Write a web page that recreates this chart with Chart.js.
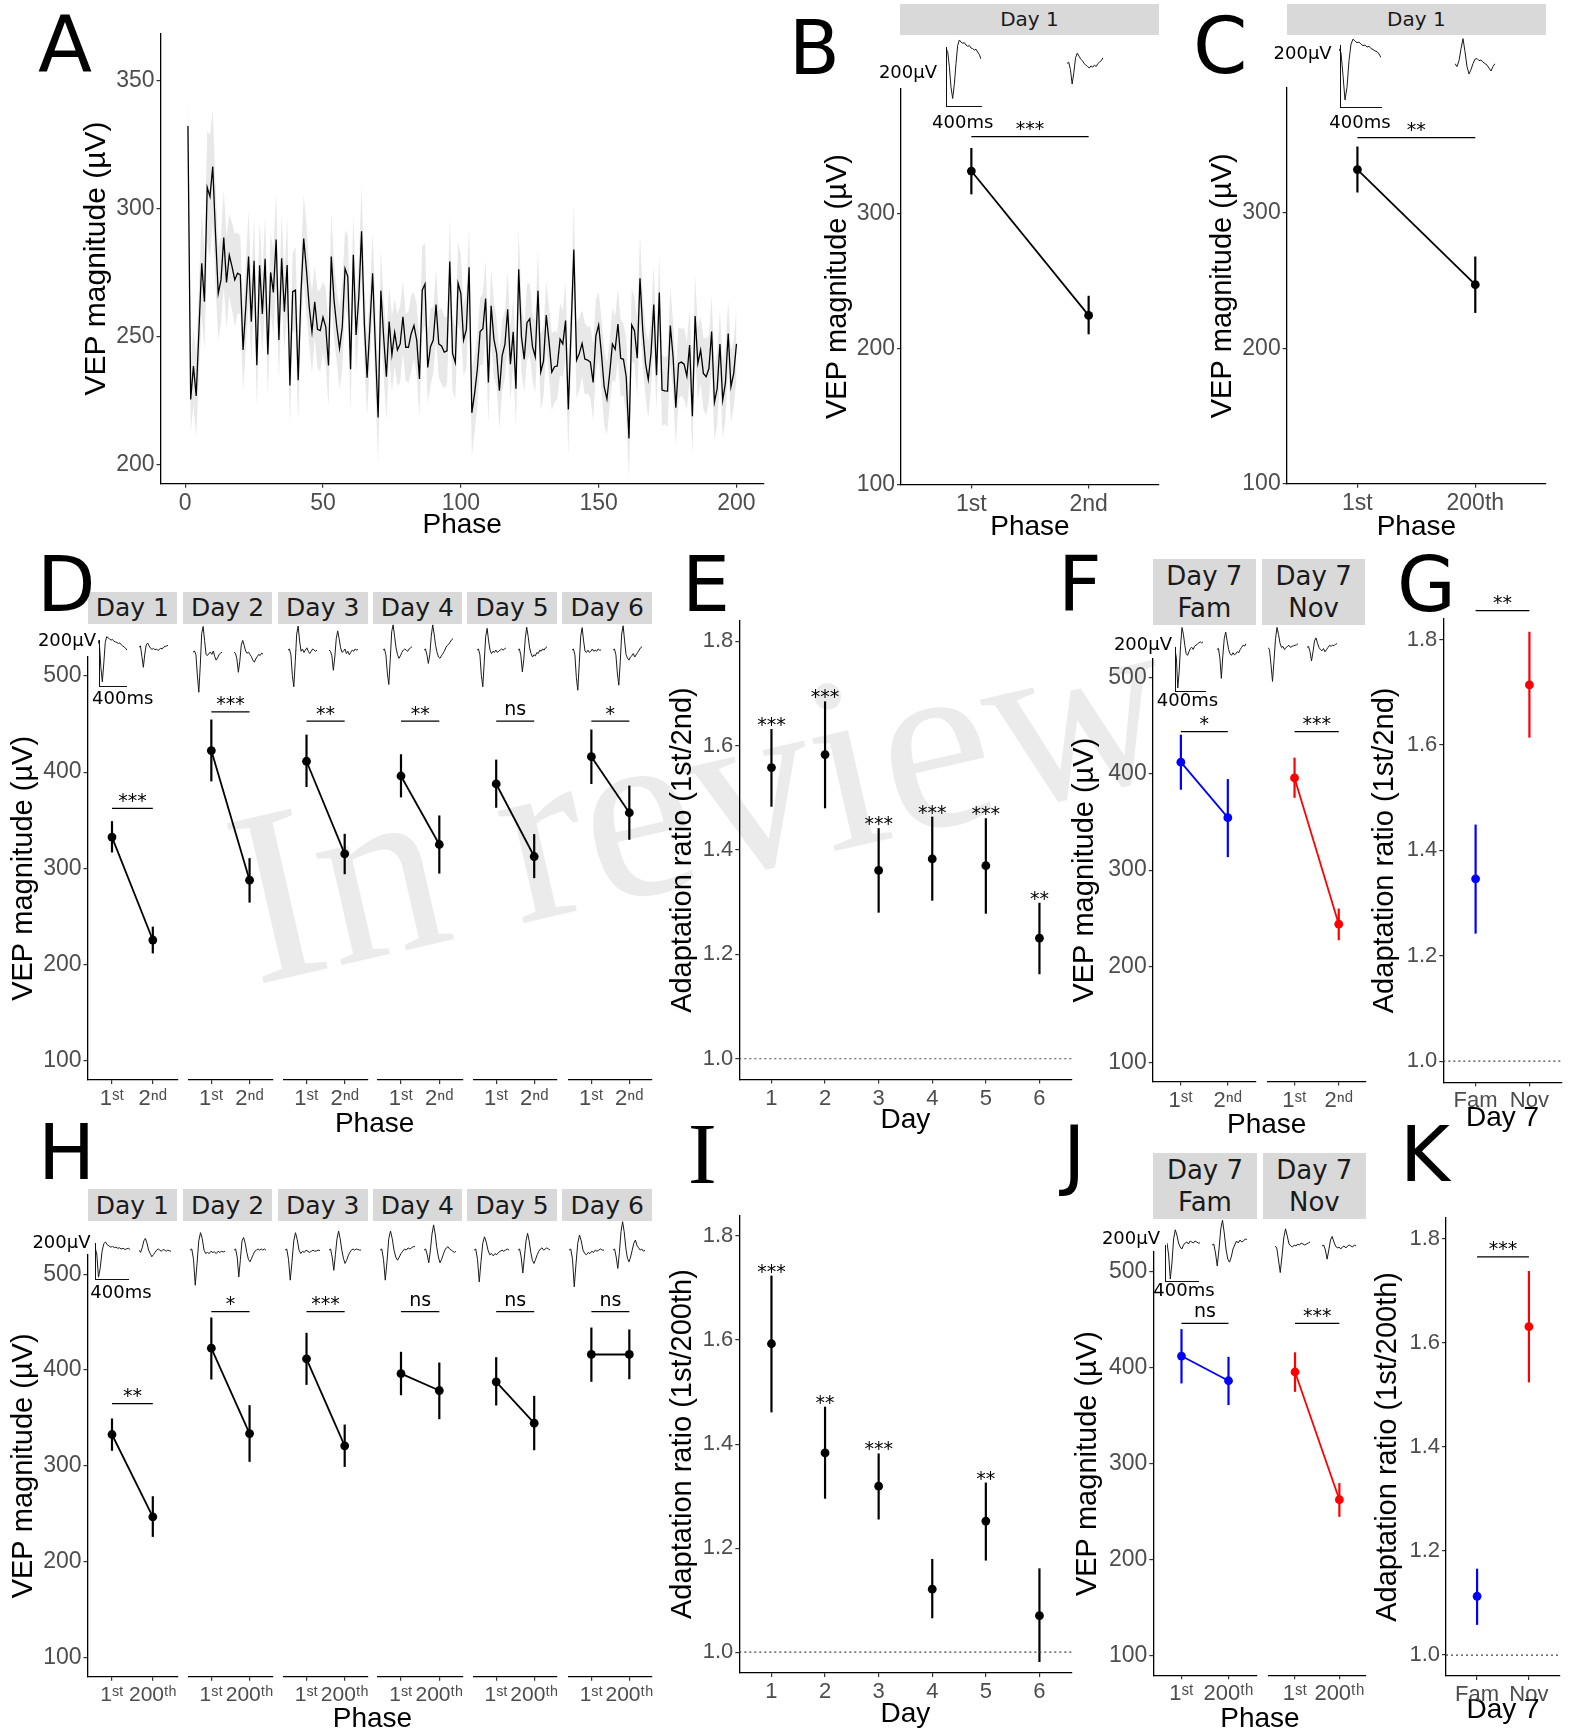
<!DOCTYPE html>
<html>
<head>
<meta charset="utf-8">
<script src="https://cdn.jsdelivr.net/npm/chart.js@4.4.1/dist/chart.umd.min.js"></script>
<style>
  body { margin: 0; background: #fff; }
  #fig { position: relative; width: 1571px; height: 1736px; overflow: hidden; background: #fff; }
  #fig canvas { position: absolute; z-index: 1; }
  .lbl { position: absolute; white-space: nowrap; line-height: 1; z-index: 2; }
  .strip { position: absolute; background: #d9d9d9; display: flex; align-items: center; justify-content: center;
           text-align: center; color: #1a1a1a; font-family: 'DejaVu Sans', sans-serif; z-index: 1; }
  .sbar { position: absolute; border-left: 1.5px solid #111; border-bottom: 1.5px solid #111; z-index: 2; }
  .wm { position: absolute; z-index: 0; white-space: nowrap; line-height: 1; color: #ebebeb;
        font-family: 'Liberation Serif', serif; }
</style>
</head>
<body>
<div id="fig"></div>
<script>
// ── Panel A: VEP magnitude over 200 phases (mean and SE ribbon) ─────────────
const phaseMean = [
  332.4, 225.6, 238.7, 227.0, 252.7, 278.8, 263.8, 308.4, 304.8, 316.5,
  290.5, 267.0, 272.3, 288.8, 271.3, 282.0, 277.5, 272.3, 274.9, 274.3,
  244.9, 261.8, 281.4, 256.0, 279.8, 239.0, 278.0, 259.0, 280.5, 243.2,
  275.2, 267.4, 288.1, 248.8, 280.7, 259.9, 278.1, 231.1, 267.7, 268.3,
  233.1, 267.0, 288.4, 276.2, 261.8, 252.0, 263.7, 253.0, 252.5, 257.7,
  254.0, 238.9, 281.4, 264.4, 254.0, 245.6, 254.0, 276.7, 273.6, 237.4,
  282.1, 250.8, 265.7, 291.3, 255.3, 234.1, 254.0, 274.9, 246.2, 218.6,
  268.1, 250.1, 234.5, 256.0, 243.1, 251.8, 244.9, 247.3, 257.9, 246.0,
  246.0, 251.4, 254.5, 248.8, 233.6, 268.3, 270.7, 238.1, 246.2, 248.8,
  262.7, 247.3, 246.5, 244.1, 244.6, 279.5, 243.6, 240.0, 271.0, 267.0,
  248.8, 253.0, 277.2, 220.4, 228.0, 237.5, 252.1, 253.2, 265.0, 232.3,
  262.2, 249.2, 243.6, 229.0, 242.7, 247.1, 260.8, 239.4, 252.0, 229.8,
  276.4, 250.1, 241.3, 255.6, 257.1, 246.2, 242.3, 268.1, 236.4, 240.6,
  258.6, 248.2, 236.3, 238.4, 238.7, 249.2, 247.3, 256.4, 221.7, 252.7,
  284.2, 241.0, 243.6, 247.5, 241.4, 241.0, 240.2, 232.3, 250.5, 254.7,
  243.6, 230.6, 225.8, 235.8, 247.3, 245.2, 255.1, 241.7, 241.3, 234.5,
  210.4, 254.7, 252.5, 241.7, 272.9, 252.7, 239.7, 233.4, 243.6, 262.7,
  235.1, 267.4, 229.3, 229.0, 228.9, 254.5, 242.3, 222.4, 239.7, 240.2,
  239.4, 234.7, 246.9, 219.1, 258.2, 239.7, 244.9, 235.8, 234.5, 237.7,
  252.1, 224.5, 229.9, 247.3, 225.4, 232.1, 251.4, 230.6, 235.8, 247.3,
];
const phaseSE = [
  17, 13, 15, 16, 18, 20, 19, 22, 24, 22,
  20, 18, 17, 19, 18, 16, 17, 18, 16, 15,
  16, 17, 18, 15, 17, 16, 18, 15, 17, 16,
  15, 17, 18, 16, 17, 15, 18, 16, 15, 17,
  16, 15, 17, 18, 15, 16, 14, 15, 16, 14,
  15, 16, 17, 15, 14, 16, 17, 15, 16, 17,
  16, 15, 14, 18, 16, 15, 14, 16, 17, 18,
  16, 15, 17, 14, 15, 13, 14, 15, 14, 13,
  14, 15, 13, 14, 15, 17, 16, 14, 15, 13,
  14, 13, 15, 14, 13, 17, 15, 14, 16, 15,
  14, 15, 16, 17, 15, 14, 13, 14, 15, 16,
  14, 15, 13, 15, 14, 13, 15, 14, 13, 15,
  16, 14, 13, 15, 14, 13, 14, 16, 15, 14,
  13, 14, 15, 14, 13, 14, 13, 15, 18, 14,
  18, 15, 14, 13, 14, 13, 14, 15, 14, 13,
  14, 15, 14, 13, 14, 13, 14, 15, 14, 15,
  16, 14, 13, 15, 17, 14, 13, 15, 14, 15,
  14, 15, 14, 13, 14, 15, 14, 15, 14, 13,
  14, 13, 14, 15, 16, 14, 13, 14, 15, 13,
  14, 15, 14, 13, 15, 14, 13, 14, 13, 14,
];
const aXTicks = [0, 50, 100, 150, 200];
const aYTicks = [200, 250, 300, 350];

// ── Panels B, C: Day 1, first vs second / 200th phase ───────────────────────
const bLabels = ['1st', '2nd'];
const bMean = [331.2, 224.7];
const bLo = [314.0, 210.8];
const bHi = [348.2, 239.2];
const cLabels = ['1st', '200th'];
const cMean = [331.7, 246.8];
const cLo = [314.8, 226.0];
const cHi = [348.7, 267.6];
const vepTicksBC = [100, 200, 300];
const vepTicks = [100, 200, 300, 400, 500];

// ── Panels D, H: Day 1–6 ────────────────────────────────────────────────────
const days = ['Day 1', 'Day 2', 'Day 3', 'Day 4', 'Day 5', 'Day 6'];
const dPhase = ['1ˢᵗ', '2ⁿᵈ'];
const d1stMean = [332.5, 422.4, 411.3, 396.0, 387.7, 416.1];
const d1stLo = [316.5, 390.4, 384.5, 373.8, 363.0, 387.7];
const d1stHi = [349.1, 454.7, 439.0, 418.6, 413.0, 444.3];
const d2ndMean = [225.5, 287.7, 315.1, 324.8, 312.3, 357.8];
const d2ndLo = [211.6, 264.4, 293.9, 294.6, 289.8, 329.7];
const d2ndHi = [239.4, 310.6, 335.9, 355.0, 335.6, 386.0];
const dSig = ['***', '***', '**', '**', 'ns', '*'];
const dSigY = [362.3, 462.7, 453, 453, 453, 453];

const hPhase = ['1ˢᵗ', '200ᵗʰ'];
const h1stMean = [332.7, 422.8, 411.7, 396.3, 387.7, 416.2];
const h1stLo = [315.7, 390.1, 384.5, 373.7, 363.0, 387.7];
const h1stHi = [349.4, 454.8, 438.8, 419.0, 413.4, 444.3];
const h200Mean = [246.8, 333.7, 320.9, 378.6, 344.5, 416.2];
const h200Lo = [225.9, 304.2, 298.9, 348.7, 316.3, 390.4];
const h200Hi = [268.3, 363.3, 343.1, 407.8, 373.0, 442.3];
const hSig = ['**', '*', '***', 'ns', 'ns', 'ns'];
const hSigY = [365, 461, 461, 461, 461, 461];

// ── Panels E, I: adaptation ratio per day ───────────────────────────────────
const dayNums = [1, 2, 3, 4, 5, 6];
const ratioTicks = [1.0, 1.2, 1.4, 1.6, 1.8];
const eMean = [1.558, 1.583, 1.361, 1.383, 1.370, 1.231];
const eLo = [1.483, 1.480, 1.280, 1.303, 1.278, 1.162];
const eHi = [1.632, 1.685, 1.442, 1.464, 1.461, 1.299];
const eSig = ['***', '***', '***', '***', '***', '**'];
const iMean = [1.593, 1.383, 1.319, 1.121, 1.252, 1.070];
const iLo = [1.461, 1.295, 1.255, 1.065, 1.176, 0.981];
const iHi = [1.724, 1.472, 1.382, 1.179, 1.326, 1.161];
const iSig = ['***', '**', '***', '', '**', ''];

// ── Panels F, J: Day 7 familiar vs novel ────────────────────────────────────
const fFamMean = [412.4, 354.6];
const fFamLo = [383.7, 313.5];
const fFamHi = [441.0, 394.8];
const fNovMean = [396.0, 243.8];
const fNovLo = [375.3, 227.0];
const fNovHi = [417.1, 260.0];
const fSig = ['*', '***'];
const jFamMean = [411.9, 386.2];
const jFamLo = [383.4, 360.9];
const jFamHi = [439.9, 411.1];
const jNovMean = [395.3, 262.5];
const jNovLo = [374.7, 244.7];
const jNovHi = [415.8, 279.8];
const jSig = ['ns', '***'];

// ── Panels G, K: Day 7 adaptation ratio ─────────────────────────────────────
const groups = ['Fam', 'Nov'];
const gMean = [1.346, 1.714];
const gLo = [1.242, 1.614];
const gHi = [1.449, 1.815];
const kMean = [1.113, 1.631];
const kLo = [1.058, 1.524];
const kHi = [1.166, 1.738];

// ── Averaged VEP waveforms (µV, 400 ms each) ────────────────────────────────
const trB1 = [0, -10, -60, -130, -168, -120, -50, 10, 29, 22, 18, 20, 12, 8, 10, 2, 0, -5, -2, -12, -20, -35];
const trB2 = [0, 5, -20, -69, -30, 20, 35, 25, 15, 10, 0, -5, -10, -15, -8, -12, -5, -10, 0, 5, 10, 20];
const trC1 = [0, -15, -90, -173, -130, -40, 15, 32, 25, 20, 22, 15, 10, 12, 5, 8, 0, -3, -8, -10, -18, -30];
const trC2 = [0, -10, 10, 50, 84, 40, -10, -35, -20, 0, 15, 17, 10, 12, 5, 0, -5, -15, -25, -10, 0];
const trD1a = [0, -20, -120, -182, -100, -10, 15, 10, 5, 0, 3, -5, -8, -10, -15, -12, -20, -25, -30, -35, -44];
const trD1b = [0, 5, -40, -88, -30, 10, 18, 5, -5, -10, -5, -12, -8, -15, -10, -5, -8, 0, 3, 5, 8];
const trD2a = [0, 5, -10, -100, -175, -60, 80, 112, 50, -10, -15, -5, 0, -10, 5, -20, -35, -25, -10, -5, 0];
const trD2b = [0, -5, -30, -88, -40, 30, 51, 30, 5, -5, 0, -10, -20, -35, -44, -30, -20, -10, -15, -5, -8];
const trD3a = [0, 5, -20, -110, -160, -50, 70, 105, 40, -5, 5, -10, 0, 10, -5, -15, -5, 5, 0, -5, 0];
const trD3b = [0, -5, -25, -88, -30, 50, 84, 50, 10, -10, -5, 5, -15, -5, -20, -10, 0, -5, 5, 0, 3];
const trD4a = [0, 5, -20, -100, -150, -40, 80, 110, 60, 10, -20, -36, -25, -10, 0, 5, 0, -5, 5, 10, 15];
const trD4b = [0, 5, -20, -58, -20, 60, 110, 70, 20, -10, -30, -36, -25, -15, -5, 10, 20, 25, 35, 45, 50];
const trD5a = [0, 5, -20, -110, -160, -50, 60, 95, 40, 0, -15, -5, -10, 0, -10, -5, 0, 5, 0, 5, 10];
const trD5b = [0, 5, -25, -95, -40, 50, 100, 60, 10, -15, -30, -20, -25, -10, -15, 0, -5, 5, 0, 10, 15];
const trD6a = [0, 5, -20, -120, -175, -60, 60, 98, 40, -5, -10, 0, -10, -5, 5, -5, 0, -5, 5, 0, 0];
const trD6b = [0, 5, -20, -100, -153, -50, 70, 106, 40, -20, -35, -44, -30, -25, -15, -30, -20, -10, 0, 10, 15];
const trH1a = [0, -30, -131, -90, -20, 15, 22, 10, 5, 0, 3, -2, 0, -5, -3, -8, -5, -10, -8, -5, -10];
const trH1b = [0, -10, 10, 40, 51, 30, 0, -15, -29, -20, -10, 0, 5, 0, -5, 3, 0, -5, 0, -3, -5];
const trH2a = [0, 5, -40, -153, -60, 40, 76, 50, 0, -15, -10, -15, -5, -10, -8, -15, -5, -10, -5, -8, -5];
const trH2b = [0, 5, -30, -117, -40, 40, 55, 30, -10, -40, -51, -35, -20, -5, 0, 5, 0, 5, 0, 5, 0];
const trH3a = [0, 5, -40, -131, -50, 40, 76, 45, 0, -15, -5, -10, 0, -5, -10, -5, 0, -5, -3, 0, -2];
const trH3b = [0, 5, -30, -88, -20, 50, 83, 50, 0, -35, -58, -45, -25, -10, 0, 5, 0, 5, 3, 0, 0];
const trH4a = [0, 5, -40, -131, -50, 50, 83, 50, 0, -30, -44, -30, -15, -5, 5, 0, 10, 5, 10, 15, 15];
const trH4b = [0, 5, -20, -55, 0, 70, 110, 70, 10, -30, -55, -40, -20, 0, 10, 15, 5, 0, -5, -10, -5];
const trH5a = [0, 5, -40, -139, -50, 30, 58, 35, 0, -20, -15, -25, -15, -20, -10, -5, 0, -5, 0, 5, 0];
const trH5b = [0, 5, -30, -100, -30, 40, 73, 40, -10, -45, -58, -40, -20, -5, 5, 10, 0, 5, 10, 5, 0];
const trH6a = [0, 5, -40, -160, -60, 30, 66, 40, 0, -15, -20, -10, -15, -5, -10, 0, -5, 0, 5, 0, 0];
const trH6b = [0, 5, -30, -80, -10, 80, 124, 80, 10, -35, -51, -30, 0, 30, 44, 20, 10, 0, 5, -5, 0];
const trF1a = [0, -40, -177, -100, 20, 101, 70, 20, -20, -27, -10, 5, 10, 0, 15, 20, 25, 30, 35, 30, 35];
const trF1b = [0, 5, -40, -133, -30, 50, 80, 40, 0, -20, -27, -15, -25, -20, -10, -15, 0, 10, 20, 15, 27];
const trF2a = [0, -10, -80, -156, -60, 40, 92, 60, 20, 0, 5, -10, 0, 5, 10, 0, 5, 8, 10, 12, 18];
const trF2b = [0, 5, -20, -62, -20, 30, 44, 20, 0, -10, -15, -5, -20, -10, 0, 10, 5, 10, 8, 15, 18];
const trJ1a = [0, -60, -180, -100, 20, 66, 40, 0, -20, -30, -10, 0, 5, -5, 10, 5, 0, 10, 5, 0, 0];
const trJ1b = [0, 5, -40, -105, -20, 80, 124, 60, -20, -70, -86, -60, -20, 0, 20, 10, 25, 15, 20, 30, 28];
const trJ2a = [0, -10, -70, -133, -50, 40, 86, 50, 10, 0, -5, 5, 0, 10, 5, 15, 10, 5, 10, 15, 20];
const trJ2b = [0, 5, -20, -66, -20, 30, 48, 20, 0, -10, -5, -15, -5, 0, -10, 0, 5, 0, -5, 5, 0];

// ── helpers ─────────────────────────────────────────────────────────────────
const fig = document.getElementById('fig');
const SANS = "'Liberation Sans', Arial, 'DejaVu Sans', sans-serif";
const DJ = "'DejaVu Sans', sans-serif";
const TICK = '#4d4d4d';
const BLUE = '#0000ff';
const RED = '#ff0000';

function canvasAt(x, y, w, h) {
  const c = document.createElement('canvas');
  c.width = w; c.height = h;
  c.style.left = x + 'px'; c.style.top = y + 'px';
  c.style.width = w + 'px'; c.style.height = h + 'px';
  fig.appendChild(c);
  return c;
}

function text(str, x, y, size, family, align) {
  const d = document.createElement('div');
  d.className = 'lbl';
  d.textContent = str;
  d.style.fontSize = size + 'px';
  d.style.fontFamily = family || DJ;
  d.style.left = x + 'px';
  d.style.top = y + 'px';
  const tx = align === 'right' ? '-100%' : align === 'left' ? '0' : '-50%';
  d.style.transform = `translate(${tx}, -50%)`;
  fig.appendChild(d);
}

function letter(ch, x, capTop, size, serif) {
  const d = document.createElement('div');
  d.className = 'lbl';
  d.textContent = ch;
  d.style.fontSize = size + 'px';
  d.style.fontFamily = serif ? "'Liberation Serif', serif" : DJ;
  d.style.left = x + 'px';
  d.style.top = (capTop - (serif ? 0.176 : 0.117) * size) + 'px';
  fig.appendChild(d);
}

function strip(x, y, w, h, html, size) {
  const d = document.createElement('div');
  d.className = 'strip';
  d.innerHTML = html;
  d.style.cssText += `left:${x}px;top:${y}px;width:${w}px;height:${h}px;font-size:${size}px;line-height:1.25;`;
  fig.appendChild(d);
}

function scaleBar(x, top, bottom, right) {
  const d = document.createElement('div');
  d.className = 'sbar';
  d.style.cssText += `left:${x}px;top:${top}px;width:${right - x}px;height:${bottom - top}px;`;
  fig.appendChild(d);
}

// one averaged waveform, k = pixels per µV
function trace(vals, x, w, baseY, k) {
  const top = Math.round(baseY - 140 * k);
  const c = canvasAt(Math.round(x), top, Math.round(w), Math.round(340 * k));
  new Chart(c, {
    type: 'line',
    data: { labels: vals.map((_, i) => i), datasets: [{ data: vals, borderColor: '#1a1a1a', borderWidth: 1, pointRadius: 0, tension: 0 }] },
    options: {
      responsive: false, animation: false, events: [],
      layout: { padding: 0 },
      plugins: { legend: { display: false }, tooltip: { enabled: false } },
      scales: { x: { display: false }, y: { display: false, min: -200, max: 140 } },
    },
  });
}

// error bars drawn from dataset lo/hi through the chart scales
const errorBars = {
  id: 'errorBars',
  beforeDatasetsDraw(chart) {
    const { ctx } = chart;
    const xs = chart.scales.x, ys = chart.scales.y;
    chart.data.datasets.forEach((ds) => {
      if (!ds.lo) return;
      ctx.save();
      ctx.strokeStyle = ds.borderColor;
      ctx.lineWidth = 2.2;
      ds.data.forEach((p, i) => {
        const px = xs.getPixelForValue(p.x);
        ctx.beginPath();
        ctx.moveTo(px, ys.getPixelForValue(ds.lo[i]));
        ctx.lineTo(px, ys.getPixelForValue(ds.hi[i]));
        ctx.stroke();
      });
      ctx.restore();
    });
  },
};

// reference line, significance bars and star labels
function annot(o) {
  return {
    id: 'annot',
    beforeDatasetsDraw(chart) {
      if (o.ref == null) return;
      const { ctx, chartArea } = chart;
      const py = chart.scales.y.getPixelForValue(o.ref);
      ctx.save();
      ctx.strokeStyle = '#444';
      ctx.lineWidth = 1.2;
      ctx.setLineDash([2, 3]);
      ctx.beginPath();
      ctx.moveTo(chartArea.left, py);
      ctx.lineTo(chartArea.right, py);
      ctx.stroke();
      ctx.restore();
    },
    afterDatasetsDraw(chart) {
      const { ctx } = chart;
      const xs = chart.scales.x, ys = chart.scales.y;
      ctx.save();
      ctx.font = `19px ${DJ}`;
      ctx.fillStyle = '#000';
      ctx.strokeStyle = '#000';
      ctx.lineWidth = 1.3;
      ctx.textAlign = 'center';
      ctx.textBaseline = 'alphabetic';
      (o.bars || []).forEach((b) => {
        const py = ys.getPixelForValue(b.y);
        const x1 = xs.getPixelForValue(b.x1), x2 = xs.getPixelForValue(b.x2);
        ctx.beginPath();
        ctx.moveTo(x1, py);
        ctx.lineTo(x2, py);
        ctx.stroke();
        ctx.fillText(b.text, (x1 + x2) / 2, py - (b.text === 'ns' ? 6 : 1.5));
      });
      (o.stars || []).forEach((s) => {
        if (!s.text) return;
        ctx.fillText(s.text, xs.getPixelForValue(s.x), ys.getPixelForValue(s.y) + 2);
      });
      ctx.restore();
    },
  };
}

// one plot panel; rect = [left, top, right, bottom] of the plotting area
function plot(o) {
  const [l, t, r, b] = o.rect;
  const showY = o.yAxis !== false;
  const yTitleSize = o.yTitleSize || 29;
  const left = o.yTitle ? o.yTitleX - (4 + yTitleSize * 0.6) : l - (showY ? 60 : 6);
  const bottom = o.xTitle ? o.xTitleY + 4 + 28 * 0.6 : b + 36;
  const cx = Math.round(left), cy = Math.round(t - (o.T || 36));
  const cw = Math.round(r + 12) - cx, ch = Math.round(bottom) - cy;
  const c = canvasAt(cx, cy, cw, ch);
  new Chart(c, {
    type: 'line',
    data: { datasets: o.datasets },
    options: {
      responsive: false, animation: false, events: [],
      layout: { padding: { left: showY ? 0 : l - cx, top: t - cy, right: cx + cw - r, bottom: 0 } },
      plugins: { legend: { display: false }, tooltip: { enabled: false } },
      scales: {
        x: {
          type: 'linear', min: o.xMin, max: o.xMax,
          afterBuildTicks: (s) => { s.ticks = o.xTicks.map((v) => ({ value: v })); },
          afterFit: (s) => { s.height = cy + ch - b; },
          ticks: { autoSkip: false, maxRotation: 0, padding: 2, color: TICK,
                   font: { family: SANS, size: o.xTickSize || 23 }, callback: o.xFmt || ((v) => v) },
          grid: { drawOnChartArea: false, tickLength: 4, color: '#333', lineWidth: 1.2 },
          border: { color: '#000', width: 1.3 },
          title: o.xTitle
            ? { display: true, text: o.xTitle, color: '#000', font: { family: SANS, size: 28, lineHeight: 1.2 }, padding: { top: 0, bottom: 4 } }
            : { display: false },
        },
        y: {
          type: 'linear', display: showY, min: o.yMin, max: o.yMax,
          afterBuildTicks: (s) => { s.ticks = o.yTicks.map((v) => ({ value: v })); },
          afterFit: (s) => { s.width = l - cx; },
          ticks: { autoSkip: false, padding: 2, color: TICK,
                   font: { family: SANS, size: o.yTickSize || 23 }, callback: o.yFmt || ((v) => v) },
          grid: { drawOnChartArea: false, tickLength: 4, color: '#333', lineWidth: 1.2 },
          border: { color: '#000', width: 1.3 },
          title: o.yTitle
            ? { display: true, text: o.yTitle, color: '#000', font: { family: SANS, size: yTitleSize, lineHeight: 1.2 }, padding: { top: 4, bottom: 0 } }
            : { display: false },
        },
      },
    },
    plugins: [errorBars, annot(o)],
  });
}

function pointSet(means, lo, hi, color, xs, joined) {
  return {
    data: means.map((m, i) => ({ x: xs[i], y: m })),
    lo, hi,
    borderColor: color, backgroundColor: color, pointBackgroundColor: color,
    pointBorderWidth: 0, pointRadius: 4.4, borderWidth: 1.8, showLine: joined, tension: 0,
  };
}

// ── panel A ─────────────────────────────────────────────────────────────────
// datasets are painted last-to-first, so the mean line comes first to stay on top of the ribbon
plot({
  rect: [160.5, 33.2, 763.9, 483.8],
  xMin: -8.95, xMax: 209.95, xTicks: aXTicks,
  yMin: 192.7, yMax: 368.6, yTicks: aYTicks,
  yTitle: 'VEP magnitude (µV)', yTitleX: 97, yTitleSize: 30,
  xTitle: 'Phase', xTitleY: 525,
  datasets: [
    { data: phaseMean.map((v, i) => ({ x: i + 1, y: v })), borderColor: '#000', borderWidth: 1.3, pointRadius: 0, tension: 0 },
    { data: phaseMean.map((v, i) => ({ x: i + 1, y: v - phaseSE[i] })), borderColor: 'rgba(0,0,0,0)', borderWidth: 0, pointRadius: 0, fill: false },
    { data: phaseMean.map((v, i) => ({ x: i + 1, y: v + phaseSE[i] })), borderColor: 'rgba(0,0,0,0)', borderWidth: 0, pointRadius: 0, fill: '-1', backgroundColor: '#e8e8e8' },
  ],
});

// ── panels B and C ──────────────────────────────────────────────────────────
strip(900, 4.4, 259, 31, 'Day 1', 20);
plot({
  rect: [901, 88.6, 1159, 484.5],
  xMin: 0.4, xMax: 2.6, xTicks: [1, 2], xFmt: (v) => bLabels[v - 1],
  yMin: 100, yMax: 392, yTicks: vepTicksBC,
  yTitle: 'VEP magnitude (µV)', yTitleX: 838,
  xTitle: 'Phase', xTitleY: 527,
  datasets: [pointSet(bMean, bLo, bHi, '#000', [1, 2], true)],
  bars: [{ x1: 1, x2: 2, y: 356.6, text: '***' }],
});
trace(trB1, 945.7, 35.3, 48.2, 0.297);
trace(trB2, 1067.3, 36, 63.7, 0.297);
scaleBar(945.7, 46.5, 106, 981);
text('200µV', 937, 72.3, 18, DJ, 'right');
text('400ms', 962.7, 122.2, 18, DJ);

strip(1286.7, 4.4, 259.3, 31, 'Day 1', 20);
plot({
  rect: [1286.7, 87.8, 1546, 483.8],
  xMin: 0.4, xMax: 2.6, xTicks: [1, 2], xFmt: (v) => cLabels[v - 1],
  yMin: 100, yMax: 392, yTicks: vepTicksBC,
  yTitle: 'VEP magnitude (µV)', yTitleX: 1223,
  xTitle: 'Phase', xTitleY: 527,
  datasets: [pointSet(cMean, cLo, cHi, '#000', [1, 2], true)],
  bars: [{ x1: 1, x2: 2, y: 355.3, text: '**' }],
});
trace(trC1, 1339.3, 41.7, 48.2, 0.297);
trace(trC2, 1455, 40, 63.7, 0.297);
scaleBar(1340, 44.8, 106.7, 1381);
text('200µV', 1331.7, 53.4, 18, DJ, 'right');
text('400ms', 1360, 122.2, 18, DJ);

// ── panels D and H (six day facets each) ────────────────────────────────────
const facetLeft = [87.5, 182.7, 277.8, 372.5, 467.2, 562.3];
const facetW = 89.8;
const dTraces = [[trD1a, trD1b], [trD2a, trD2b], [trD3a, trD3b], [trD4a, trD4b], [trD5a, trD5b], [trD6a, trD6b]];
const hTraces = [[trH1a, trH1b], [trH2a, trH2b], [trH3a, trH3b], [trH4a, trH4b], [trH5a, trH5b], [trH6a, trH6b]];

days.forEach((day, i) => {
  const l = facetLeft[i];
  strip(l, 591.7, facetW, 32.3, day, 25);
  plot({
    rect: [l, 656.7, l + facetW, 1080],
    xMin: 0.4, xMax: 2.6, xTicks: [1, 2], xFmt: (v) => dPhase[v - 1], xTickSize: 22,
    yMin: 80, yMax: 520, yTicks: vepTicks, yAxis: i === 0,
    yTitle: i === 0 ? 'VEP magnitude (µV)' : null, yTitleX: 24,
    datasets: [pointSet([d1stMean[i], d2ndMean[i]], [d1stLo[i], d2ndLo[i]], [d1stHi[i], d2ndHi[i]], '#000', [1, 2], true)],
    bars: [{ x1: 1, x2: 2, y: dSigY[i], text: dSig[i] }],
  });
  trace(dTraces[i][0], l + 10, 29, i === 0 ? 640 : (i === 1 ? 651.7 : 650), 0.2285);
  trace(dTraces[i][1], l + 51, 29, i === 0 ? 646.7 : (i === 1 ? 651.7 : 650), 0.2285);

  strip(l, 1189.3, facetW, 31.7, day, 25);
  plot({
    rect: [l, 1255, l + facetW, 1676.7],
    xMin: 0.4, xMax: 2.6, xTicks: [1, 2], xFmt: (v) => hPhase[v - 1], xTickSize: 21,
    yMin: 80, yMax: 520, yTicks: vepTicks, yAxis: i === 0,
    yTitle: i === 0 ? 'VEP magnitude (µV)' : null, yTitleX: 24,
    datasets: [pointSet([h1stMean[i], h200Mean[i]], [h1stLo[i], h200Lo[i]], [h1stHi[i], h200Hi[i]], '#000', [1, 2], true)],
    bars: [{ x1: 1, x2: 2, y: hSigY[i], text: hSig[i] }],
  });
  trace(hTraces[i][0], l + 7, 35, i === 0 ? 1246.7 : 1250, 0.2285);
  trace(hTraces[i][1], l + 51, 32, 1250, 0.2285);
});
scaleBar(98.9, 640, 685.7, 126.3);
text('200µV', 96, 640, 18, DJ, 'right');
text('400ms', 122.7, 698.3, 18, DJ);
text('Phase', 374.6, 1123.3, 28, SANS);
scaleBar(94.7, 1243.3, 1279.3, 128.4);
text('200µV', 90.5, 1241.7, 18, DJ, 'right');
text('400ms', 121, 1291.7, 18, DJ);
text('Phase', 372.5, 1718.3, 28, SANS);

// ── panels E and I ──────────────────────────────────────────────────────────
plot({
  rect: [739.3, 620.5, 1071.6, 1079.6],
  xMin: 0.4, xMax: 6.6, xTicks: dayNums, xTickSize: 22,
  yMin: 0.96, yMax: 1.84, yTicks: ratioTicks, yFmt: (v) => v.toFixed(1), yTickSize: 22,
  yTitle: 'Adaptation ratio (1st/2nd)', yTitleX: 683,
  xTitle: 'Day', xTitleY: 1120.4,
  ref: 1.0,
  datasets: [pointSet(eMean, eLo, eHi, '#000', dayNums, false)],
  stars: dayNums.map((d, i) => ({ x: d, y: eHi[i], text: eSig[i] })),
});
plot({
  rect: [739.3, 1215.3, 1071.6, 1672.9],
  xMin: 0.4, xMax: 6.6, xTicks: dayNums, xTickSize: 22,
  yMin: 0.96, yMax: 1.84, yTicks: ratioTicks, yFmt: (v) => v.toFixed(1), yTickSize: 22,
  yTitle: 'Adaptation ratio (1st/200th)', yTitleX: 683,
  xTitle: 'Day', xTitleY: 1713.8,
  ref: 1.0,
  datasets: [pointSet(iMean, iLo, iHi, '#000', dayNums, false)],
  stars: dayNums.map((d, i) => ({ x: d, y: iHi[i], text: iSig[i] })),
});

// ── panels F and J (Day 7 Fam / Nov facets) ─────────────────────────────────
function day7Pair(top, bottom, stripTop, famRect, novRect, fam, nov, sig, sigY, labels, titleX) {
  strip(famRect[0], stripTop, famRect[1] - famRect[0], 66, 'Day 7<br>Fam', 26);
  strip(novRect[0], stripTop, novRect[1] - novRect[0], 66, 'Day 7<br>Nov', 26);
  plot({
    rect: [famRect[0], top, famRect[1], bottom],
    xMin: 0.4, xMax: 2.6, xTicks: [1, 2], xFmt: (v) => labels[v - 1], xTickSize: 22,
    yMin: 80, yMax: 520, yTicks: vepTicks,
    yTitle: 'VEP magnitude (µV)', yTitleX: titleX,
    datasets: [pointSet(fam[0], fam[1], fam[2], BLUE, [1, 2], true)],
    bars: [{ x1: 1, x2: 2, y: sigY, text: sig[0] }],
  });
  plot({
    rect: [novRect[0], top, novRect[1], bottom],
    xMin: 0.4, xMax: 2.6, xTicks: [1, 2], xFmt: (v) => labels[v - 1], xTickSize: 22,
    yMin: 80, yMax: 520, yTicks: vepTicks, yAxis: false,
    datasets: [pointSet(nov[0], nov[1], nov[2], RED, [1, 2], true)],
    bars: [{ x1: 1, x2: 2, y: sigY, text: sig[1] }],
  });
}
day7Pair(658.8, 1081.5, 559.2, [1152.7, 1256], [1262, 1365.3],
  [fFamMean, fFamLo, fFamHi], [fNovMean, fNovLo, fNovHi], fSig, 444.2, dPhase, 1085);
trace(trF1a, 1175, 28.3, 649.2, 0.2165);
trace(trF1b, 1216.7, 29.3, 649.2, 0.2165);
trace(trF2a, 1268.3, 30, 647.3, 0.2165);
trace(trF2b, 1307.3, 30, 647.3, 0.2165);
scaleBar(1175, 647.3, 690.6, 1205);
text('200µV', 1172, 644.2, 18, DJ, 'right');
text('400ms', 1187.5, 700.2, 18, DJ);
text('Phase', 1266.7, 1124.4, 28, SANS);

day7Pair(1252.1, 1675.2, 1153.3, [1153.3, 1256.7], [1262.7, 1366],
  [jFamMean, jFamLo, jFamHi], [jNovMean, jNovLo, jNovHi], jSig, 445.8, hPhase, 1088.3);
trace(trJ1a, 1166.7, 33.3, 1242.6, 0.2);
trace(trJ1b, 1211.7, 35, 1244.5, 0.2);
trace(trJ2a, 1275, 35, 1246.4, 0.2);
trace(trJ2b, 1321.7, 34.3, 1246.4, 0.2);
scaleBar(1165, 1244.5, 1280.6, 1198.3);
text('200µV', 1160, 1238, 18, DJ, 'right');
text('400ms', 1184, 1290, 18, DJ);
text('Phase', 1260, 1717.8, 28, SANS);

// ── panels G and K ──────────────────────────────────────────────────────────
plot({
  rect: [1443.3, 618.6, 1561.7, 1082.2],
  xMin: 0.4, xMax: 2.6, xTicks: [1, 2], xFmt: (v) => groups[v - 1], xTickSize: 22,
  yMin: 0.96, yMax: 1.84, yTicks: ratioTicks, yFmt: (v) => v.toFixed(1), yTickSize: 22,
  yTitle: 'Adaptation ratio (1st/2nd)', yTitleX: 1385,
  xTitle: 'Day 7', xTitleY: 1118.6,
  ref: 1.0,
  datasets: [
    pointSet([gMean[0]], [gLo[0]], [gHi[0]], BLUE, [1], false),
    pointSet([gMean[1]], [gLo[1]], [gHi[1]], RED, [2], false),
  ],
  bars: [{ x1: 1, x2: 2, y: 1.855, text: '**' }],
});
plot({
  rect: [1446, 1217.9, 1560, 1675.9],
  xMin: 0.4, xMax: 2.6, xTicks: [1, 2], xFmt: (v) => groups[v - 1], xTickSize: 22,
  yMin: 0.96, yMax: 1.84, yTicks: ratioTicks, yFmt: (v) => v.toFixed(1), yTickSize: 22,
  yTitle: 'Adaptation ratio (1st/200th)', yTitleX: 1388.3,
  xTitle: 'Day 7', xTitleY: 1710,
  ref: 1.0,
  datasets: [
    pointSet([kMean[0]], [kLo[0]], [kHi[0]], BLUE, [1], false),
    pointSet([kMean[1]], [kLo[1]], [kHi[1]], RED, [2], false),
  ],
  bars: [{ x1: 1, x2: 2, y: 1.765, text: '***' }],
});

// ── panel letters and watermark ─────────────────────────────────────────────
letter('A', 38, 15, 79);
letter('B', 789, 20, 74);
letter('C', 1193, 16, 78);
letter('D', 37, 556, 76);
letter('E', 682, 556, 76);
letter('F', 1058, 556, 76);
letter('G', 1397, 556, 76);
letter('H', 38, 1124, 76);
letter('I', 688, 1126, 86, true);
letter('J', 1063, 1126, 76);
letter('K', 1400, 1126, 76);

const wm = document.createElement('div');
wm.className = 'wm';
wm.textContent = 'In review';
wm.style.fontSize = '250px';
wm.style.left = '255px';
wm.style.top = (985 - 0.8375 * 250) + 'px';
wm.style.transformOrigin = `0 ${0.8375 * 250}px`;
wm.style.transform = 'rotate(-13deg)';
fig.appendChild(wm);
</script>
</body>
</html>
